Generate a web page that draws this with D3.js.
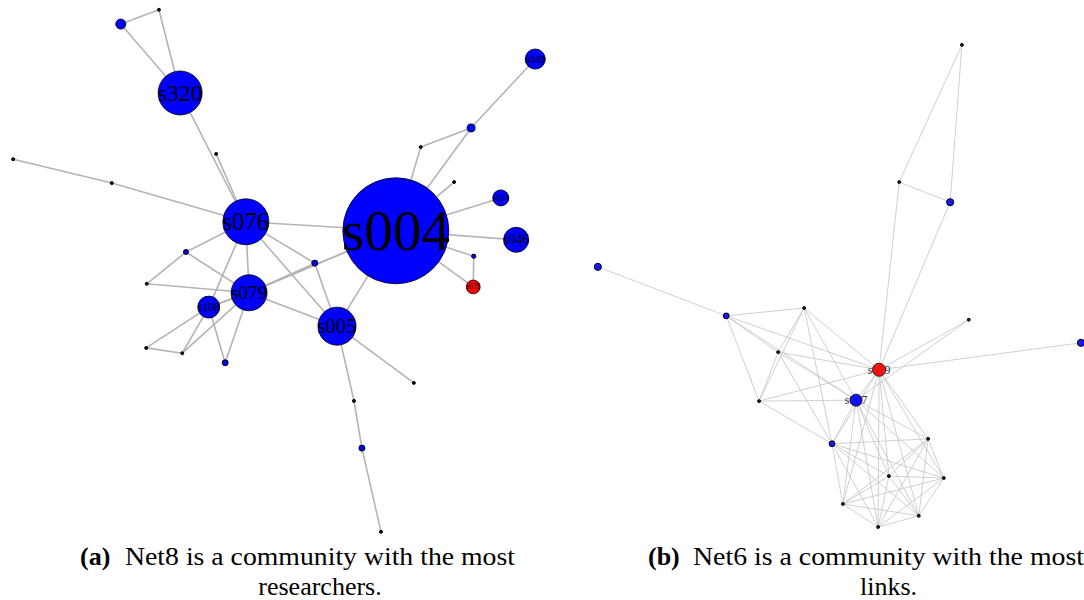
<!DOCTYPE html>
<html>
<head>
<meta charset="utf-8">
<script src="https://cdn.jsdelivr.net/npm/d3@7"></script>
<style>
  html, body { margin: 0; padding: 0; background: #fff; }
  svg { display: block; }
</style>
</head>
<body>
<svg id="fig" width="1084" height="600"></svg>
<script>
// ---- Net8: co-authorship community (layout units 0–100) ----
const net8Ids    = ["s004","s320","n03","n04","n05","n06","n07","s076","s079","s108","s005","n12","n13","n14","n15","n16","n17","s049","n19","n20","n21","s033","s046","n24","s078","n26","n27","n28","n29"];
const net8X      = [72.8, 32.1, 20.9, 28.1, 38.9, 0.6, 19.2, 44.5, 45.1, 37.5, 61.7, 33.2, 25.8, 25.7, 32.5, 40.6, 57.5, 99.1, 87.0, 77.5, 83.8, 92.6, 95.5, 87.5, 87.4, 76.2, 64.9, 66.4, 70.0];
const net8Y      = [42.6, 16.6, 3.6, 0.9, 28.1, 29.1, 33.6, 40.9, 54.3, 57.0, 60.6, 46.6, 52.6, 64.7, 65.7, 67.5, 48.7, 10.2, 23.2, 26.8, 33.4, 36.4, 44.3, 47.4, 53.2, 71.3, 74.7, 83.6, 99.4];
const net8Weight = [100, 17.2, 0.9, 0.08, 0.08, 0.08, 0.08, 18.8, 11.5, 4.3, 12.9, 0.22, 0.08, 0.08, 0.08, 0.32, 0.32, 3.6, 0.57, 0.08, 0.08, 2.3, 5.6, 0.16, 1.7, 0.08, 0.08, 0.32, 0.08];
const net8Group  = ["b","b","b","d","d","d","d","b","b","b","b","b","d","d","d","b","b","b","b","d","d","b","b","b","r","d","d","b","d"];
const net8Source = ["n03","n03","n04","s320","n05","n06","n07","s076","s076","s076","s076","s076","s076","n12","n12","n13","s079","s079","s079","s079","s079","s079","s079","s108","s108","s108","s108","n14","n17","s005","s005","s005","n27","n28","s004","n20","n19","s004","s004","s004","s004","s004","n24","s004"];
const net8Target = ["n04","s320","s320","s076","s076","n07","s076","s004","n12","s079","n17","s005","s108","n13","s079","s079","s108","s004","s004","n17","s005","n16","n15","n14","n15","n16","s079","n15","s005","s004","n26","n27","n28","n29","n20","n19","s049","n19","n21","s033","s046","n24","s078","s078"];

// ---- Net6: densely linked community (layout units 0–100) ----
const net6Ids    = ["N","O","P","Q","A","B","C","D","s019","s007","G","H","I","J","K","L","M","R","S"];
const net6X      = [75.9, 63.1, 73.5, 1.6, 27.8, 43.7, 38.4, 34.5, 59.0, 54.3, 49.4, 69.0, 61.0, 72.2, 51.6, 67.1, 58.8, 77.3, 100.2];
const net6Y      = [1.0, 29.0, 33.1, 46.3, 56.3, 54.7, 63.7, 73.7, 67.3, 73.5, 82.4, 81.4, 89.0, 89.4, 94.7, 97.1, 99.4, 57.1, 61.8];
const net6Weight = [0.05, 0.05, 0.3, 0.3, 0.2, 0.05, 0.05, 0.05, 1.0, 0.85, 0.2, 0.05, 0.05, 0.05, 0.05, 0.05, 0.05, 0.05, 0.3];
const net6Group  = ["d","d","b","b","b","d","d","d","r","b","b","d","d","d","d","d","d","d","b"];
const net6Source = ["N","N","O","O","P","Q","A","A","A","A","A","B","B","B","B","B","C","C","C","C","D","D","D","R","R","S",
                    "s019","s019","s019","s019","s019","s019","s019","s019",
                    "s007","s007","s007","s007","s007","s007","s007",
                    "G","G","G","G","G","G",
                    "H","H","H","H","H","I","I","I","I","J","J","J","K","K","L"];
const net6Target = ["O","P","P","s019","s019","A","B","C","D","s019","s007","C","D","s019","s007","G","D","s019","s007","G","s019","s007","G","s019","s007","s019",
                    "s007","G","H","I","J","K","L","M",
                    "G","H","I","J","K","L","M",
                    "H","I","J","K","L","M",
                    "I","J","K","L","M","J","K","L","M","K","L","M","L","M","M"];

// ---- caption text ----
const captionTags  = ["(a)", "(b)"];
const captionLine1 = ["Net8 is a community with the most", "Net6 is a community with the most"];
const captionLine2 = ["researchers.", "links."];

const svg = d3.select("#fig");
const fillOf = { b: "#0000ff", r: "#ff0000", d: "#2b0a0a" };

function buildNodes(ids, xs, ys, ws, gs) {
  return ids.map((id, i) => ({ id, x: xs[i], y: ys[i], w: ws[i], g: gs[i] }));
}

function drawNetwork(cfg) {
  const nodes = buildNodes(cfg.ids, cfg.xs, cfg.ys, cfg.ws, cfg.gs);
  const byId = new Map(nodes.map(n => [n.id, n]));
  const links = cfg.src.map((s, i) => ({ s: byId.get(s), t: byId.get(cfg.tgt[i]) }));
  const x = d3.scaleLinear().domain([0, 100]).range(cfg.xRange);
  const y = d3.scaleLinear().domain([0, 100]).range(cfg.yRange);
  const r = d3.scaleSqrt().domain([0, d3.max(nodes, n => n.w)]).range([0, cfg.rMax]);

  const g = svg.append("g");
  g.append("g").selectAll("line").data(links).join("line")
    .attr("x1", d => x(d.s.x)).attr("y1", d => y(d.s.y))
    .attr("x2", d => x(d.t.x)).attr("y2", d => y(d.t.y))
    .attr("stroke", cfg.edgeColor)
    .attr("stroke-width", cfg.edgeWidth);

  const node = g.append("g").selectAll("g").data(nodes).join("g")
    .attr("transform", d => `translate(${x(d.x)},${y(d.y)})`);

  if (cfg.labelsBehind) {
    node.filter(d => r(d.w) >= cfg.labelMinR).append("text")
      .attr("text-anchor", "middle").attr("dy", "0.35em")
      .attr("font-family", "Liberation Serif, serif")
      .attr("font-size", cfg.labelSize)
      .attr("fill", "#333")
      .text(d => d.id);
  }
  node.append("circle")
    .attr("r", d => Math.max(r(d.w), cfg.rMin))
    .attr("fill", d => fillOf[d.g])
    .attr("stroke", "#000")
    .attr("stroke-width", d => r(d.w) > 4 ? 0.8 : 1)
    .attr("fill-opacity", cfg.labelsBehind ? 0.9 : 1);
  if (!cfg.labelsBehind) {
    node.filter(d => r(d.w) >= cfg.labelMinR).append("text")
      .attr("text-anchor", "middle").attr("dy", "0.33em")
      .attr("font-family", "Liberation Serif, serif")
      .attr("font-size", d => r(d.w) * 1.08)
      .attr("fill", "#000")
      .text(d => d.id);
  }
}

drawNetwork({
  ids: net8Ids, xs: net8X, ys: net8Y, ws: net8Weight, gs: net8Group,
  src: net8Source, tgt: net8Target,
  xRange: [10, 540], yRange: [5, 535], rMax: 53, rMin: 1.4,
  edgeColor: "#b4b4b4", edgeWidth: 1.6, labelMinR: 6, labelsBehind: false
});

drawNetwork({
  ids: net6Ids, xs: net6X, ys: net6Y, ws: net6Weight, gs: net6Group,
  src: net6Source, tgt: net6Target,
  xRange: [590, 1080], yRange: [40, 530], rMax: 6.5, rMin: 1.4,
  edgeColor: "#c4c4c4", edgeWidth: 0.8, labelMinR: 5, labelsBehind: true, labelSize: 12
});

// ---- captions ----
const capX = [80, 648];
const colStart = [125, 693];
const colEnd = [515, 1084];
captionTags.forEach((tag, i) => {
  const c = svg.append("g").attr("font-family", "Liberation Serif, serif").attr("font-size", 26).attr("fill", "#000");
  c.append("text").attr("x", capX[i]).attr("y", 565).attr("font-weight", "bold").text(tag);
  c.append("text").attr("x", colStart[i]).attr("y", 565)
    .attr("textLength", colEnd[i] - colStart[i]).attr("lengthAdjust", "spacingAndGlyphs")
    .text(captionLine1[i]);
  c.append("text").attr("x", (colStart[i] + colEnd[i]) / 2).attr("y", 595)
    .attr("text-anchor", "middle").text(captionLine2[i]);
});
</script>
</body>
</html>
